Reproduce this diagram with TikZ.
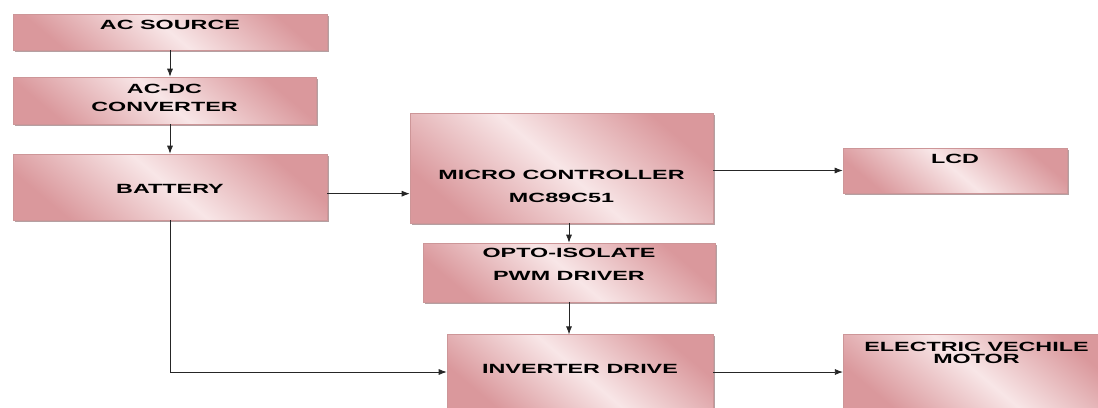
\documentclass[tikz,border=0pt]{standalone}
\usepackage{fontspec}
\usepackage{tikz}
\usetikzlibrary{arrows.meta, shadows, positioning, calc}
\newfontfamily\blockfont[FakeStretch=1.75]{Liberation Sans}
\definecolor{roseDark}{RGB}{218, 152, 156}
\definecolor{roseLight}{RGB}{248, 230, 231}
\definecolor{roseEdge}{RGB}{205, 150, 152}
\definecolor{shadowColor}{RGB}{150, 120, 122}

\begin{document}
\begin{tikzpicture}[
    x=0.75pt, y=-0.75pt,
    block/.style={
        draw=roseEdge, line width=0.4pt,
        top color=roseDark, bottom color=roseDark, middle color=roseLight,
        shading angle=-40, inner sep=0pt,
        drop shadow={shadow xshift=1.3pt, shadow yshift=-1.3pt, fill=shadowColor, opacity=0.7}
    },
    tag/.style={font=\blockfont\bfseries, align=center, text=black, inner sep=0pt},
    link/.style={-{Latex[length=6pt, width=4.5pt]}, line width=0.6pt, color=black!85}
]
    % Canvas: 1 unit = 1 px of the 1098 x 407 sheet.
    \useasboundingbox (0,0) rectangle (1098,407);

    % Supply chain on the left
    \node[block, minimum width=235.5pt, minimum height=27pt,
        label={[tag, yshift=5.25pt]center:AC SOURCE}] (acsource) at (170,32) {};
    \node[block, minimum width=227.25pt, minimum height=35.25pt,
        label={[tag, yshift=1.9pt]center:{AC-DC\\[1.5pt]CONVERTER}}] (acdc) at (164.5,100.5) {};
    \node[block, minimum width=235.5pt, minimum height=49.5pt,
        label={[tag, yshift=-1.5pt]center:BATTERY}] (battery) at (170,187) {};

    % Controller column
    \node[block, minimum width=227.25pt, minimum height=82.5pt,
        label={[tag, yshift=-13.9pt]center:{MICRO CONTROLLER\\[5.25pt]MC89C51}}] (micro) at (561.5,168) {};
    \node[block, minimum width=219pt, minimum height=44.25pt,
        label={[tag, yshift=6pt]center:{OPTO-ISOLATE\\[5.25pt]PWM DRIVER}}] (opto) at (569,272.5) {};
    \node[block, minimum width=199.5pt, minimum height=56pt,
        label={[tag, yshift=2.25pt]center:INVERTER DRIVE}] (inverter) at (580,372) {};

    % Outputs on the right
    \node[block, minimum width=168pt, minimum height=33.75pt,
        label={[tag, yshift=8.6pt]center:LCD}] (lcd) at (955,170.5) {};
    \node[block, minimum width=200pt, minimum height=56pt,
        label={[tag, yshift=14.25pt]center:{ELECTRIC VECHILE\\[-3pt]MOTOR}}] (motor) at (976.5,372) {};

    % Connectors
    \draw[link] (acsource.south) -- (acsource.south |- acdc.north);
    \draw[link] (battery.north |- acdc.south) -- (battery.north);
    \draw[link] ([yshift=-5pt]battery.east) -- ([yshift=-5pt]battery.east -| micro.west);
    \draw[link] (micro.east |- lcd) -- (lcd.west);
    \draw[link] (opto.north |- micro.south) -- (opto.north);
    \draw[link] (opto.south) -- (opto.south |- inverter.north);
    \draw[link] (battery.south) |- (inverter.west);
    \draw[link] (inverter.east) -- (inverter.east -| motor.west);
\end{tikzpicture}
\end{document}
